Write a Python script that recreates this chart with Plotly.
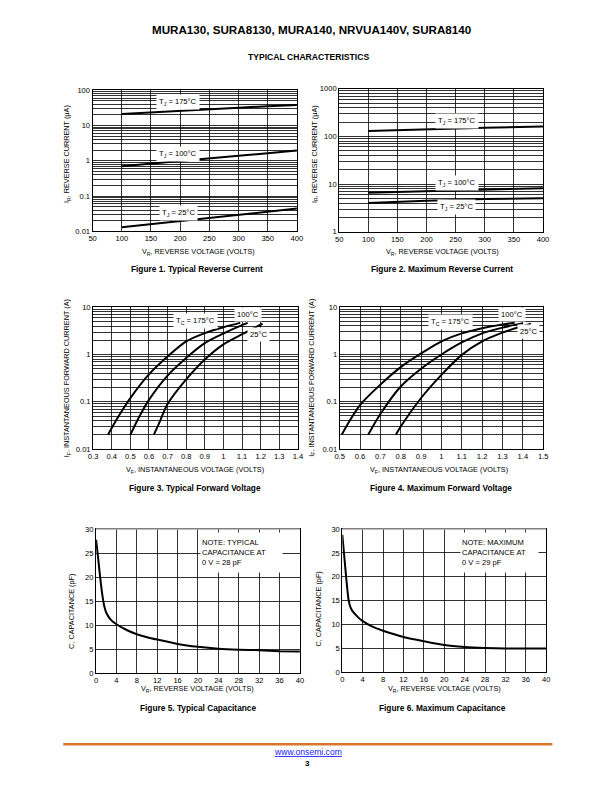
import math
import plotly.graph_objects as go

W, H = 612, 792
FONT = "Liberation Sans, Arial, Helvetica, sans-serif"

# ---------------- data ----------------
# Figure 1 - typical reverse current (uA) vs VR
f1_vr = [100, 150, 200, 250, 300, 350, 400]
f1_ir_175 = [21, 23.5, 26, 29, 32, 35, 38]
f1_ir_100 = [0.70, 0.82, 0.97, 1.15, 1.38, 1.62, 1.95]
f1_ir_25 = [0.013, 0.016, 0.020, 0.024, 0.029, 0.036, 0.044]

# Figure 2 - maximum reverse current (uA) vs VR
f2_vr = [100, 200, 300, 400]
f2_ir_175 = [130, 142, 152, 162]
f2_ir_100 = [6.6, 7.1, 7.7, 8.2]
f2_ir_25 = [4.0, 4.5, 4.85, 5.05]

# Figure 3 - typical forward voltage
f3_vf_175 = [0.38, 0.4, 0.45, 0.5, 0.6, 0.7, 0.8, 0.9, 1.0, 1.09]
f3_if_175 = [0.02, 0.028, 0.06, 0.12, 0.38, 0.91, 1.9, 2.85, 3.8, 4.7]
f3_vf_100 = [0.5, 0.55, 0.6, 0.7, 0.8, 0.9, 1.0, 1.1, 1.13]
f3_if_100 = [0.02, 0.05, 0.11, 0.36, 0.85, 1.75, 2.8, 4.2, 4.7]
f3_vf_25 = [0.626, 0.65, 0.7, 0.8, 0.9, 1.0, 1.1, 1.21]
f3_if_25 = [0.02, 0.032, 0.09, 0.3, 0.79, 1.65, 2.7, 4.5]

# Figure 4 - maximum forward voltage
f4_vf_175 = [0.51, 0.55, 0.6, 0.7, 0.8, 0.9, 1.0, 1.1, 1.2, 1.3, 1.36]
f4_if_175 = [0.02, 0.04, 0.085, 0.23, 0.54, 1.05, 1.9, 2.8, 3.6, 4.3, 4.7]
f4_vf_100 = [0.64, 0.7, 0.8, 0.9, 1.0, 1.1, 1.2, 1.3, 1.4]
f4_if_100 = [0.02, 0.055, 0.21, 0.5, 1.0, 1.8, 2.8, 3.7, 4.6]
f4_vf_25 = [0.776, 0.8, 0.9, 1.0, 1.1, 1.2, 1.3, 1.4, 1.44]
f4_if_25 = [0.02, 0.03, 0.12, 0.37, 0.98, 1.9, 2.9, 4.0, 4.5]

# Figure 5 - typical capacitance (pF) vs VR
f5_vr = [0, 0.4, 0.8, 1.2, 1.6, 2, 3, 4, 6, 8, 10, 12, 16, 20, 24, 28, 32, 36, 40]
f5_c = [27.8, 24, 20, 16.5, 14, 12.6, 11.0, 10.2, 9.0, 8.1, 7.5, 7.0, 6.1, 5.5, 5.1, 4.9, 4.8, 4.6, 4.5]

# Figure 6 - maximum capacitance (pF) vs VR
f6_vr = [0, 0.4, 0.8, 1.2, 1.6, 2, 3, 4, 6, 8, 10, 12, 16, 20, 24, 28, 32, 36, 40]
f6_c = [28.8, 24, 19.3, 15.3, 13.6, 12.8, 11.6, 10.7, 9.5, 8.7, 8.0, 7.4, 6.5, 5.7, 5.3, 5.1, 5.0, 5.0, 5.0]

# tick labels
f12_xticks = [50, 100, 150, 200, 250, 300, 350, 400]
f1_ydecades = ["0.01", "0.1", "1", "10", "100"]
f2_ydecades = ["1", "10", "100", "1000"]
f34_ydecades = ["0.01", "0.1", "1", "10"]
f3_xticks = [0.3, 0.4, 0.5, 0.6, 0.7, 0.8, 0.9, 1.0, 1.1, 1.2, 1.3, 1.4]
f3_xlabels = ["0.3", "0.4", "0.5", "0.6", "0.7", "0.8", "0.9", "1", "1.1", "1.2", "1.3", "1.4"]
f4_xticks = [0.5, 0.6, 0.7, 0.8, 0.9, 1.0, 1.1, 1.2, 1.3, 1.4, 1.5]
f4_xlabels = ["0.5", "0.6", "0.7", "0.8", "0.9", "1", "1.1", "1.2", "1.3", "1.4", "1.5"]
f56_xticks = [0, 4, 8, 12, 16, 20, 24, 28, 32, 36, 40]
f56_yticks = [0, 5, 10, 15, 20, 25, 30]

# ---------------- page geometry ----------------
# small correction for the capture's slight rescale
AX, BX = 0.9877, 1.4
AY, BY = 0.9877, 4.4
FS = 1 / AY


def cx(x):
    return (x - BX) / AX


def cy(y):
    return (y - BY) / AY


def dx(a, b):
    return [cx(a) / W, cx(b) / W]


def dy(top, bottom):
    return [1 - cy(bottom) / H, 1 - cy(top) / H]


def px(x):
    return cx(x) / W


def py(y):
    return 1 - cy(y) / H


def log_axis(lo_exp, labels):
    hi_exp = lo_exp + len(labels) - 1
    major = [10.0 ** e for e in range(lo_exp, hi_exp + 1)]
    minor = [m * 10.0 ** e for e in range(lo_exp, hi_exp) for m in range(2, 10)]
    return dict(type="log", range=[lo_exp, hi_exp], tickmode="array", tickvals=major,
                ticktext=labels,
                minor=dict(tickmode="array", tickvals=minor, showgrid=True,
                           gridcolor="black", gridwidth=0.8, ticks=""))


def axis(domain, anchor, **kw):
    d = dict(domain=domain, anchor=anchor, showgrid=True, gridcolor="black",
             gridwidth=0.8, showline=True, mirror=True, linecolor="black",
             linewidth=1, zeroline=False, ticks="", fixedrange=True,
             tickfont=dict(family=FONT, size=7.5 * FS, color="black"))
    d.update(kw)
    return d


# plot areas in pixels (left, right, top, bottom)
P = {
    1: (89.5, 295, 90.5, 231.5),
    2: (337.5, 542.5, 89, 232),
    3: (90, 296, 307.5, 449),
    4: (338, 542.7, 307.3, 449),
    5: (93, 298, 529, 673),
    6: (340.7, 545.7, 529, 672),
}

fig = go.Figure()


def add(x, y, n, spline=False, smooth=0.8):
    s = "" if n == 1 else str(n)
    line = dict(color="black", width=2)
    if spline:
        line.update(shape="spline", smoothing=smooth)
    fig.add_trace(go.Scatter(x=x, y=y, mode="lines", line=line, xaxis="x" + s,
                             yaxis="y" + s, showlegend=False, hoverinfo="skip"))


add(f1_vr, f1_ir_175, 1)
add(f1_vr, f1_ir_100, 1)
add(f1_vr, f1_ir_25, 1)
add(f2_vr, f2_ir_175, 2)
add(f2_vr, f2_ir_100, 2)
add(f2_vr, f2_ir_25, 2)
add(f3_vf_175, f3_if_175, 3, True)
add(f3_vf_100, f3_if_100, 3, True)
add(f3_vf_25, f3_if_25, 3, True)
add(f4_vf_175, f4_if_175, 4, True)
add(f4_vf_100, f4_if_100, 4, True)
add(f4_vf_25, f4_if_25, 4, True)
add(f5_vr, f5_c, 5, True, 0.5)
add(f6_vr, f6_c, 6, True, 0.5)

layout = dict(
    width=W, height=H, margin=dict(l=0, r=0, t=0, b=0),
    paper_bgcolor="white", plot_bgcolor="white", showlegend=False,
    font=dict(family=FONT, color="black"),
    xaxis=axis(dx(*P[1][:2]), "y", range=[50, 400], tickmode="array", tickvals=f12_xticks),
    yaxis=axis(dy(*P[1][2:]), "x", **log_axis(-2, f1_ydecades)),
    xaxis2=axis(dx(*P[2][:2]), "y2", range=[50, 400], tickmode="array", tickvals=f12_xticks),
    yaxis2=axis(dy(*P[2][2:]), "x2", **log_axis(0, f2_ydecades)),
    xaxis3=axis(dx(*P[3][:2]), "y3", range=[0.3, 1.4], tickmode="array",
                tickvals=f3_xticks, ticktext=f3_xlabels),
    yaxis3=axis(dy(*P[3][2:]), "x3", **log_axis(-2, f34_ydecades)),
    xaxis4=axis(dx(*P[4][:2]), "y4", range=[0.5, 1.5], tickmode="array",
                tickvals=f4_xticks, ticktext=f4_xlabels),
    yaxis4=axis(dy(*P[4][2:]), "x4", **log_axis(-2, f34_ydecades)),
    xaxis5=axis(dx(*P[5][:2]), "y5", range=[0, 40], tickmode="array", tickvals=f56_xticks),
    yaxis5=axis(dy(*P[5][2:]), "x5", range=[0, 30], tickmode="array", tickvals=f56_yticks),
    xaxis6=axis(dx(*P[6][:2]), "y6", range=[0, 40], tickmode="array", tickvals=f56_xticks),
    yaxis6=axis(dy(*P[6][2:]), "x6", range=[0, 30], tickmode="array", tickvals=f56_yticks),
)
fig.update_layout(**layout)

ann = []


def text(x, y, t, size=7.5, bold=False, color="black", angle=0, xanchor="center"):
    ann.append(dict(x=px(x), y=py(y), xref="paper", yref="paper", text=("<b>%s</b>" % t) if bold else t,
                    showarrow=False, textangle=angle, xanchor=xanchor, yanchor="middle",
                    font=dict(family=FONT, size=size * FS, color=color)))


# page titles
text(310, 30, "MURA130, SURA8130, MURA140, NRVUA140V, SURA8140", 11.5, True)
text(307, 57, "TYPICAL CHARACTERISTICS", 8.5, True)

# axis titles
xt_r = "V<sub>R</sub>, REVERSE VOLTAGE (VOLTS)"
xt_f = "V<sub>F</sub>, INSTANTANEOUS VOLTAGE (VOLTS)"
text(196, 252.5, xt_r, 7.2)
text(441, 252.5, xt_r, 7.2)
text(193, 470, xt_f, 7.2)
text(438, 470, xt_f, 7.2)
text(195, 689, xt_r, 7.2)
text(443, 689, xt_r, 7.2)

yt_r = "I<sub>R</sub>, REVERSE CURRENT (\u03bcA)"
yt_f = "I<sub>F</sub>, INSTANTANEOUS FORWARD CURRENT (A)"
yt_c = "C, CAPACITANCE (pF)"
text(64, 154, yt_r, 7.2, angle=-90)
text(312.5, 154, yt_r, 7.2, angle=-90)
text(64, 378, yt_f, 7.2, angle=-90)
text(310, 378, yt_f, 7.2, angle=-90)
text(67.5, 611, yt_c, 7.2, angle=-90)
text(316.5, 609, yt_c, 7.2, angle=-90)

# captions
text(195, 269, "Figure 1. Typical Reverse Current", 8.2, True)
text(441, 269, "Figure 2. Maximum Reverse Current", 8.2, True)
text(192, 488, "Figure 3. Typical Forward Voltage", 8.2, True)
text(440, 488, "Figure 4. Maximum Forward Voltage", 8.2, True)
text(196, 708, "Figure 5. Typical Capacitance", 8.2, True)
text(441, 708, "Figure 6. Maximum Capacitance", 8.2, True)

# footer
ann.append(dict(x=px(306), y=py(752), xref="paper", yref="paper", showarrow=False,
                text="<u>www.onsemi.com</u>", font=dict(family=FONT, size=8.5 * FS, color="#1a1aff"),
                xanchor="center", yanchor="middle"))
text(306, 763, "3", 8, True)


# curve labels (on data axes; log axes use log10 positions)
def lab(n, x, y, t, logy=True):
    s = "" if n == 1 else str(n)
    ann.append(dict(x=x, y=math.log10(y) if logy else y, xref="x" + s, yref="y" + s,
                    text=t, showarrow=False, bgcolor="white", borderpad=2,
                    font=dict(family=FONT, size=7.5 * FS, color="black")))


lab(1, 197, 45, "T<sub>J</sub> = 175\u00b0C")
lab(1, 196, 1.6, "T<sub>J</sub> = 100\u00b0C")
lab(1, 198, 0.034, "T<sub>J</sub> = 25\u00b0C")
lab(2, 252, 207, "T<sub>J</sub> = 175\u00b0C")
lab(2, 252, 10.8, "T<sub>J</sub> = 100\u00b0C")
lab(2, 252, 3.3, "T<sub>J</sub> = 25\u00b0C")
lab(3, 0.85, 5.2, "T<sub>C</sub> = 175\u00b0C")
lab(3, 1.13, 7.0, "100\u00b0C")
lab(3, 1.19, 2.7, "25\u00b0C")
lab(4, 1.044, 4.85, "T<sub>C</sub> = 175\u00b0C")
lab(4, 1.345, 6.9, "100\u00b0C")
lab(4, 1.427, 3.06, "25\u00b0C")

# notes on capacitance charts
ann.append(dict(x=20.4, y=25.1, xref="x5", yref="y5", xanchor="left", yanchor="middle",
                text="NOTE: TYPICAL<br>CAPACITANCE AT<br>0 V = 28 pF", align="left",
                showarrow=False, bgcolor="white", width=79, height=37, borderpad=1,
                font=dict(family=FONT, size=7.5 * FS, color="black")))
ann.append(dict(x=23.0, y=25.1, xref="x6", yref="y6", xanchor="left", yanchor="middle",
                text="NOTE: MAXIMUM<br>CAPACITANCE AT<br>0 V = 29 pF", align="left",
                showarrow=False, bgcolor="white", width=75, height=37, borderpad=1,
                font=dict(family=FONT, size=7.5 * FS, color="black")))

fig.update_layout(annotations=ann)

shapes = [
    dict(type="line", xref="paper", yref="paper", x0=px(60), x1=px(552), y0=py(744), y1=py(744),
         line=dict(color="#D9782D", width=2.5)),
]
for n in (5, 6):
    shapes.append(dict(type="line", xref="x%d domain" % n, yref="y%d domain" % n, x0=0, x1=1, y0=1, y1=1,
                       line=dict(color="#AAAAAA", width=1.5), layer="above"))
fig.update_layout(shapes=shapes)

fig.write_html(
    "out.html",
    config={"displayModeBar": False, "staticPlot": True},
    post_script=("document.documentElement.style.margin='0';document.documentElement.style.padding='0';"
                 "document.documentElement.style.overflow='hidden';"
                 "document.body.style.margin='0';document.body.style.padding='0';"
                 "document.body.style.overflow='hidden';"),
)
